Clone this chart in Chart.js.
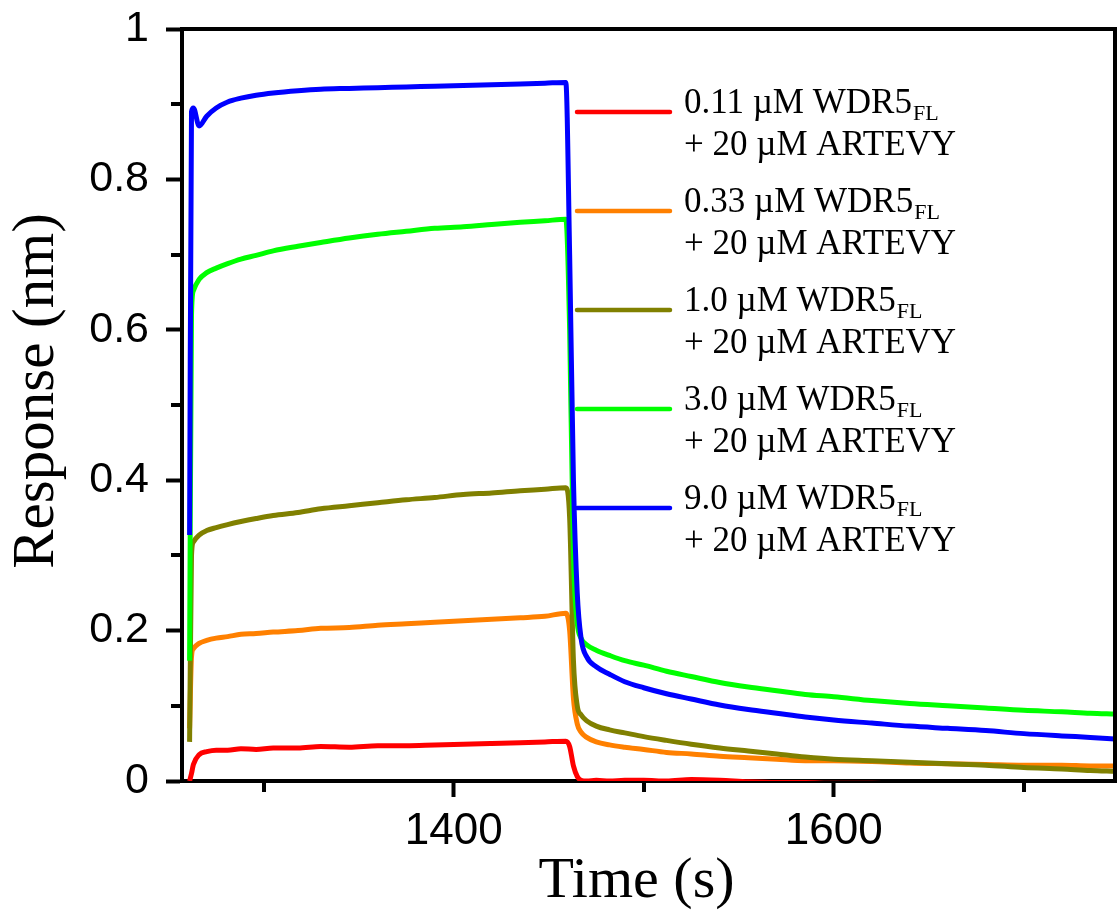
<!DOCTYPE html>
<html>
<head>
<meta charset="utf-8">
<title>WDR5 binding response</title>
<script src="https://cdn.jsdelivr.net/npm/chart.js@4.4.1/dist/chart.umd.min.js"></script>
<style>
  html, body { margin: 0; padding: 0; background: #fff; }
  #bliChart { display: block; }
</style>
</head>
<body>
<canvas id="bliChart" width="1118" height="911"></canvas>
<script>
/* Sensorgrama BLI - WDR5 FL + ARTEVY (Chart.js) */

// tempo (s) - associacao a partir de ~1261 s, dissociacao a partir de ~1460 s
const TIME_S = [
  1261, 1262, 1263, 1266, 1270, 1275, 1281, 1288, 1296, 1305,
  1318, 1330, 1345, 1360, 1375, 1390, 1405, 1420, 1435, 1448,
  1459, 1461, 1463, 1465, 1467, 1470, 1475, 1482, 1490, 1500,
  1512, 1525, 1540, 1555, 1570, 1585, 1600, 1620, 1640, 1660,
  1680, 1700, 1720, 1735, 1748,
];

// resposta (nm) para cada concentracao de WDR5 FL
const RESP_0_11 = [
  0, 0.01, 0.022, 0.035, 0.039, 0.041, 0.041, 0.043, 0.042, 0.044,
  0.044, 0.046, 0.045, 0.047, 0.047, 0.048, 0.049, 0.05, 0.051, 0.052,
  0.053, 0.046, 0.02, 0.006, 0.001, 0, 0.001, 0, 0.001, 0.001,
  0, 0.002, 0.001, -0.001, -0.002, -0.002, -0.003, -0.003, -0.004, -0.004,
  -0.005, -0.005, -0.005, -0.006, -0.006,
];
const RESP_0_33 = [
  0.07, 0.165, 0.176, 0.183, 0.187, 0.19, 0.192, 0.195, 0.196, 0.198,
  0.2, 0.203, 0.204, 0.207, 0.209, 0.211, 0.213, 0.215, 0.217, 0.219,
  0.223, 0.2, 0.11, 0.076, 0.065, 0.058, 0.052, 0.048, 0.045, 0.042,
  0.038, 0.036, 0.033, 0.031, 0.029, 0.027, 0.027, 0.026, 0.024, 0.023,
  0.022, 0.021, 0.021, 0.02, 0.02,
];
const RESP_1_0 = [
  0.052, 0.3, 0.318, 0.327, 0.333, 0.337, 0.341, 0.345, 0.349, 0.353,
  0.357, 0.362, 0.366, 0.37, 0.374, 0.377, 0.381, 0.383, 0.386, 0.388,
  0.39, 0.35, 0.16, 0.1, 0.088, 0.08, 0.073, 0.068, 0.064, 0.059,
  0.054, 0.049, 0.044, 0.04, 0.036, 0.032, 0.029, 0.027, 0.025, 0.023,
  0.021, 0.018, 0.016, 0.014, 0.013,
];
const RESP_3_0 = [
  0.16, 0.62, 0.652, 0.667, 0.676, 0.682, 0.688, 0.694, 0.699, 0.705,
  0.711, 0.716, 0.722, 0.727, 0.731, 0.735, 0.737, 0.74, 0.743, 0.745,
  0.747, 0.6, 0.3, 0.21, 0.19, 0.181, 0.174, 0.167, 0.16, 0.154,
  0.146, 0.139, 0.131, 0.125, 0.12, 0.115, 0.112, 0.107, 0.103, 0.1,
  0.097, 0.094, 0.092, 0.09, 0.089,
];
const RESP_9_0 = [
  0.327, 0.89, 0.895, 0.871, 0.884, 0.895, 0.903, 0.908, 0.912, 0.915,
  0.918, 0.92, 0.921, 0.922, 0.923, 0.924, 0.925, 0.926, 0.927, 0.928,
  0.929, 0.7, 0.4, 0.25, 0.19, 0.165, 0.152, 0.142, 0.132, 0.124,
  0.116, 0.109, 0.101, 0.095, 0.09, 0.085, 0.081, 0.077, 0.073, 0.07,
  0.067, 0.063, 0.06, 0.058, 0.056,
];

// rotulos da legenda
const CONC_LABELS = ['0.11', '0.33', '1.0', '3.0', '9.0'];
const PEPTIDE_LABEL = '+ 20 \u00b5M ARTEVY';

// marcas secundarias dos eixos
const X_MINOR_TICKS = [1300, 1500, 1700];
const Y_MINOR_TICKS = [0.1, 0.3, 0.5, 0.7, 0.9];

(function () {
  const SERIF = "'Times New Roman', 'Liberation Serif', serif";
  const SANS = "Arial, 'Liberation Sans', sans-serif";

  const toPoints = (values) => TIME_S.map((t, i) => ({ x: t, y: values[i] }));

  function makeDataset(values, color, order) {
    return {
      data: toPoints(values),
      borderColor: color,
      backgroundColor: color,
      borderWidth: 5,
      pointRadius: 0,
      fill: false,
      cubicInterpolationMode: 'monotone',
      order,
    };
  }

  // ordem: azul por cima, vermelho por baixo
  const datasets = [
    makeDataset(RESP_0_11, '#ff0000', 5),
    makeDataset(RESP_0_33, '#ff8000', 4),
    makeDataset(RESP_1_0, '#808000', 3),
    makeDataset(RESP_3_0, '#00ff00', 2),
    makeDataset(RESP_9_0, '#0000ff', 1),
  ];

  // moldura, marcas menores, titulos dos eixos e legenda em duas linhas
  const frameAndLegend = {
    id: 'frameAndLegend',
    afterDraw(chart) {
      const { ctx, chartArea: area, scales } = chart;
      ctx.save();

      ctx.strokeStyle = '#000';
      ctx.lineWidth = 4;
      ctx.lineCap = 'square';
      ctx.beginPath();
      ctx.moveTo(area.left, area.top);
      ctx.lineTo(area.right, area.top);
      ctx.lineTo(area.right, area.bottom);
      ctx.stroke();

      ctx.lineCap = 'butt';
      X_MINOR_TICKS.forEach((v) => {
        const x = Math.round(scales.x.getPixelForValue(v));
        ctx.beginPath();
        ctx.moveTo(x, area.bottom);
        ctx.lineTo(x, area.bottom + 11);
        ctx.stroke();
      });
      Y_MINOR_TICKS.forEach((v) => {
        const y = Math.round(scales.y.getPixelForValue(v));
        ctx.beginPath();
        ctx.moveTo(area.left, y);
        ctx.lineTo(area.left - 11, y);
        ctx.stroke();
      });

      // titulos
      ctx.fillStyle = '#000';
      ctx.font = `58px ${SERIF}`;
      ctx.textAlign = 'center';
      ctx.textBaseline = 'alphabetic';
      ctx.fillText('Time (s)', (area.left + area.right) / 2 - 12, area.bottom + 116);

      ctx.save();
      ctx.translate(53, (area.top + area.bottom) / 2 - 14);
      ctx.rotate(-Math.PI / 2);
      ctx.font = `59px ${SERIF}`;
      ctx.fillText('Response (nm)', 0, 0);
      ctx.restore();

      // legenda
      const lineX0 = area.left + 395;
      const lineX1 = area.left + 488;
      const textX = area.left + 502;
      ctx.textAlign = 'left';
      datasets.forEach((ds, i) => {
        const y = area.top + 83 + i * 99;
        ctx.strokeStyle = ds.borderColor;
        ctx.lineWidth = 4.5;
        ctx.lineCap = 'round';
        ctx.beginPath();
        ctx.moveTo(lineX0, y);
        ctx.lineTo(lineX1, y);
        ctx.stroke();

        const main = `${CONC_LABELS[i]} \u00b5M WDR5`;
        ctx.fillStyle = '#000';
        ctx.font = `35px ${SERIF}`;
        ctx.fillText(main, textX, y + 1);
        const w = ctx.measureText(main).width;
        ctx.font = `22px ${SERIF}`;
        ctx.fillText('FL', textX + w + 1, y + 8);
        ctx.font = `35px ${SERIF}`;
        ctx.fillText(PEPTIDE_LABEL, textX, y + 43);
      });

      ctx.restore();
    },
  };

  const axisCommon = {
    border: { display: true, width: 4, color: '#000' },
    grid: {
      display: true,
      drawOnChartArea: false,
      drawTicks: true,
      tickLength: 16,
      tickWidth: 4,
      tickColor: '#000',
    },
  };

  function fixPadding(scale) {
    scale.paddingTop = 0;
    scale.paddingBottom = 0;
    scale.paddingLeft = 0;
    scale.paddingRight = 0;
  }

  new Chart(document.getElementById('bliChart').getContext('2d'), {
    type: 'line',
    data: { datasets },
    options: {
      responsive: false,
      animation: false,
      layout: { padding: { top: 29, right: 3, left: 0, bottom: 0 } },
      plugins: {
        legend: { display: false },
        tooltip: { enabled: false },
      },
      scales: {
        x: {
          ...axisCommon,
          type: 'linear',
          min: 1257,
          max: 1748,
          ticks: {
            stepSize: 200,
            includeBounds: false,
            autoSkip: false,
            maxRotation: 0,
            padding: 8,
            color: '#000',
            font: { family: SANS, size: 44 },
            callback: (value) => String(value),
          },
          afterFit(scale) {
            scale.height = 130;
            fixPadding(scale);
          },
        },
        y: {
          ...axisCommon,
          type: 'linear',
          min: 0,
          max: 1,
          ticks: {
            stepSize: 0.2,
            padding: 17,
            color: '#000',
            font: { family: SANS, size: 43 },
            callback: (value) => String(Number(value.toFixed(1))),
          },
          afterFit(scale) {
            scale.width = 182;
            fixPadding(scale);
          },
        },
      },
    },
    plugins: [frameAndLegend],
  });
})();
</script>
</body>
</html>
